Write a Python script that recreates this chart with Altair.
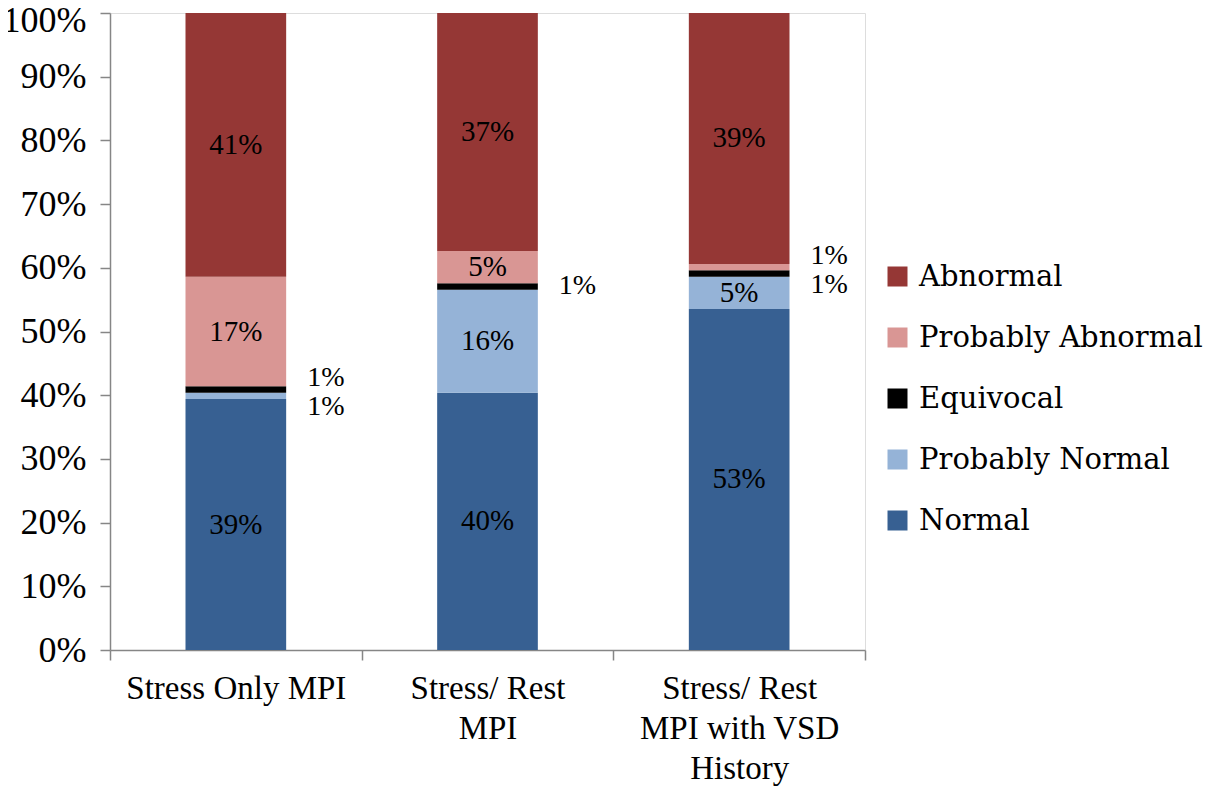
import altair as alt
import pandas as pd

categories = ["Stress Only MPI", "Stress/ Rest\nMPI", "Stress/ Rest\nMPI with VSD\nHistory"]
statuses = ["Normal", "Probably Normal", "Equivocal", "Probably Abnormal", "Abnormal"]
normal = [39, 40, 53]
probably_normal = [1, 16, 5]
equivocal = [1, 1, 1]
probably_abnormal = [17, 5, 1]
abnormal = [41, 37, 39]
colors = ["#376092", "#95B3D7", "#000000", "#D99694", "#953735"]

series = [normal, probably_normal, equivocal, probably_abnormal, abnormal]

rows = []
for i, cat in enumerate(categories):
    vals = [s[i] for s in series]
    total = float(sum(vals))
    cum = 0.0
    cat_rows = []
    for j, st in enumerate(statuses):
        v = vals[j]
        y0 = cum / total
        y1 = (cum + v) / total
        cum += v
        cat_rows.append(dict(cat=cat, status=st, order=j, value=v, y0=y0, y1=y1,
                             mid=(y0 + y1) / 2, label=f"{v}%", inside=v >= 5))
    small = [r for r in cat_rows if not r["inside"]]
    if small:
        center = sum(r["mid"] for r in small) / len(small)
        n = len(small)
        for k, r in enumerate(small):
            r["label_y"] = center + (k - (n - 1) / 2) * 0.046
    for r in cat_rows:
        r.setdefault("label_y", r["mid"])
    rows.extend(cat_rows)

df = pd.DataFrame(rows)

legend_order = statuses[::-1]
legend_colors = colors[::-1]

AX = "#868686"
x_enc = alt.X(
    "cat:N",
    sort=categories,
    scale=alt.Scale(paddingInner=0, paddingOuter=0),
    axis=alt.Axis(
        title=None,
        labelExpr="split(datum.label, '\\n')",
        labelAngle=0,
        labelFont="Liberation Serif",
        labelFontSize=33,
        labelColor="#000000",
        labelLineHeight=40,
        labelPadding=12,
        labelBaseline="top",
        labelLimit=0,
        tickBand="extent",
        tickSize=10,
        tickColor=AX,
        domainColor=AX,
        domainWidth=1.5,
        tickWidth=1.5,
        grid=False,
    ),
)

y_axis = alt.Axis(
    title=None,
    values=[i / 10 for i in range(11)],
    format=".0%",
    labelFont="Liberation Serif",
    labelFontSize=36,
    labelColor="#000000",
    labelPadding=14,
    labelOffset={"condition": {"test": "datum.value == 1", "value": 7}, "value": 0},
    tickSize=10,
    tickColor=AX,
    domainColor=AX,
    domainWidth=1.5,
    tickWidth=1.5,
    grid=False,
)

bars = alt.Chart(df).mark_bar(width=alt.RelativeBandSize(0.4)).encode(
    x=x_enc,
    y=alt.Y("y0:Q", scale=alt.Scale(domain=[0, 1]), axis=y_axis),
    y2="y1:Q",
    color=alt.Color(
        "status:N",
        scale=alt.Scale(domain=legend_order, range=legend_colors),
        legend=alt.Legend(
            title=None,
            orient="none",
            legendX=773,
            legendY=249,
            padding=0,
            symbolType="square",
            symbolSize=400,
            symbolStrokeWidth=0,
            labelFont="DejaVu Serif",
            labelFontSize=29,
            labelColor="#000000",
            labelOffset=7,
            rowPadding=31,
            labelLimit=400,
        ),
    ),
)

inside_text = alt.Chart(df).transform_filter("datum.inside").mark_text(
    font="Liberation Serif", fontSize=29, baseline="middle", align="center", color="#000000"
).encode(x=alt.X("cat:N", sort=categories), y=alt.Y("mid:Q"), text="label:N")

outside_text = alt.Chart(df).transform_filter("!datum.inside").mark_text(
    font="Liberation Serif", fontSize=28, baseline="middle", align="center", color="#000000", dx=90
).encode(x=alt.X("cat:N", sort=categories), y=alt.Y("label_y:Q"), text="label:N")

chart = alt.layer(bars, inside_text, outside_text).properties(
    width=755,
    height=637,
    autosize=alt.AutoSizeParams(type="none"),
    padding={"left": 102, "top": 5, "right": 342, "bottom": 139},
).configure_view(stroke=None).configure(background="#ffffff")

chart.save("out.html", embed_options={"renderer": "svg", "actions": False})
